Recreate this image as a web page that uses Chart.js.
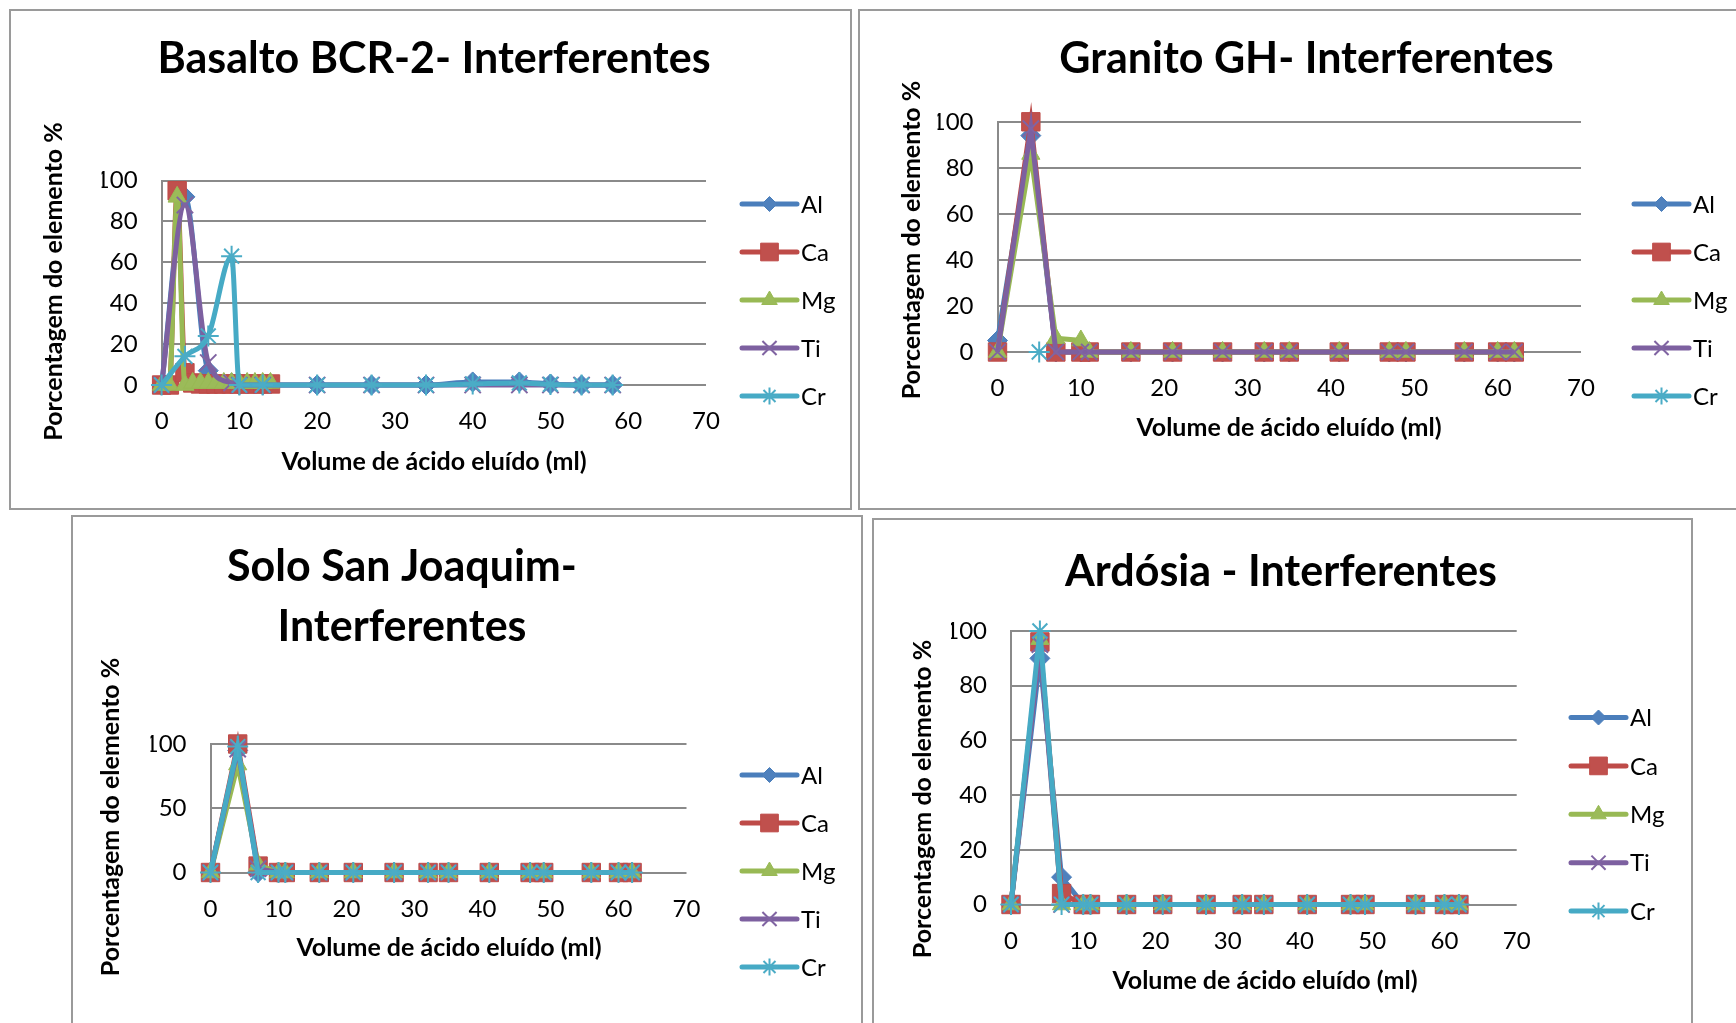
<!DOCTYPE html>
<html>
<head>
<meta charset="utf-8">
<script src="https://cdn.jsdelivr.net/npm/chart.js@4.4.1/dist/chart.umd.min.js"></script>
<style>
html, body { margin: 0; padding: 0; background: #fff; overflow: hidden; width: 1736px; height: 1023px; }
.panel { position: absolute; border: 2px solid #9a9a9a; box-sizing: border-box; background: #fff; }
canvas { position: absolute; }
</style>
</head>
<body>
<div class="panel" style="left:9px;top:9px;width:843px;height:501px"></div>
<div class="panel" style="left:858px;top:9px;width:900px;height:501px"></div>
<div class="panel" style="left:71px;top:515px;width:792px;height:530px"></div>
<div class="panel" style="left:872px;top:518px;width:821px;height:530px"></div>
<canvas id="basalto" width="842" height="500" style="left:9px;top:9px"></canvas>
<canvas id="granito" width="878" height="500" style="left:858px;top:9px"></canvas>
<canvas id="solo" width="791" height="508" style="left:71px;top:515px"></canvas>
<canvas id="ardosia" width="820" height="505" style="left:872px;top:518px"></canvas>
<script>
// element names and axis texts
const elements = ['Al', 'Ca', 'Mg', 'Ti', 'Cr'];
const xTitle = 'Volume de ácido eluído (ml)';
const yTitle = 'Porcentagem do elemento %';
const xTicks = [0, 10, 20, 30, 40, 50, 60, 70];

// Basalto BCR-2 (Al, Ti, Cr share one volume list, Ca and Mg another)
const basaltoVol = [0, 3, 6, 9, 10, 13, 20, 27, 34, 40, 46, 50, 54, 58];
const basaltoVolCaMg = [0, 1, 2, 3, 4, 5, 6, 7, 8, 9, 10, 11, 12, 13, 14];
const basaltoAl = [0, 92, 7, 1, 0, 0, 0, 0, 0, 1.5, 1.5, 0.5, 0, 0];
const basaltoCa = [0, 0, 95, 6, 1, 0.5, 0.5, 0.5, 0.5, 0.5, 0.5, 0.5, 0.5, 0.5, 0.5];
const basaltoMg = [0, 0, 92, 0, 1, 1, 1, 1, 1, 1, 1, 1, 1, 1, 1];
const basaltoTi = [0, 88, 11, 1, 0, 0, 0, 0, 0, 0, 0, 0, 0, 0];
const basaltoCr = [0, 14, 24, 63, 0, 0, 0, 0, 0, 0.5, 1, 0.3, 0, 0];

// volumes used for the other three samples
const eluteVol = [0, 4, 7, 10, 11, 16, 21, 27, 32, 35, 41, 47, 49, 56, 60, 62];

// Granito GH
const granitoAl = [5, 94, 0, 0, 0, 0, 0, 0, 0, 0, 0, 0, 0, 0, 0, 0];
const granitoCa = [0, 100, 0, 0, 0, 0, 0, 0, 0, 0, 0, 0, 0, 0, 0, 0];
const granitoMg = [0, 86, 6, 5, 0, 0, 0, 0, 0, 0, 0, 0, 0, 0, 0, 0];
const granitoTi = [0, 97, 0, 0, 0, 0, 0, 0, 0, 0, 0, 0, 0, 0, 0, 0];
const granitoCrVol = [5];
const granitoCr = [0];

// Solo San Joaquim
const soloAl = [0, 95, 0, 0, 0, 0, 0, 0, 0, 0, 0, 0, 0, 0, 0, 0];
const soloCa = [0, 100, 5, 0, 0, 0, 0, 0, 0, 0, 0, 0, 0, 0, 0, 0];
const soloMg = [0, 84, 6, 0, 0, 0, 0, 0, 0, 0, 0, 0, 0, 0, 0, 0];
const soloTi = [0, 96, 3, 0, 0, 0, 0, 0, 0, 0, 0, 0, 0, 0, 0, 0];
const soloCr = [0, 98, 0, 0, 0, 0, 0, 0, 0, 0, 0, 0, 0, 0, 0, 0];

// Ardósia
const ardosiaAl = [0, 90, 10, 0, 0, 0, 0, 0, 0, 0, 0, 0, 0, 0, 0, 0];
const ardosiaCa = [0, 96, 4, 0, 0, 0, 0, 0, 0, 0, 0, 0, 0, 0, 0, 0];
const ardosiaMg = [0, 97, 0, 0, 0, 0, 0, 0, 0, 0, 0, 0, 0, 0, 0, 0];
const ardosiaTi = [0, 95, 0, 0, 0, 0, 0, 0, 0, 0, 0, 0, 0, 0, 0, 0];
const ardosiaCr = [0, 100, 0, 0, 0, 0, 0, 0, 0, 0, 0, 0, 0, 0, 0, 0];

// series styles (Excel 2007 palette)
const lineColors = ['#4a7ebb', '#be4b48', '#98b954', '#7d60a0', '#46aac5'];
const fillColors = ['#4f81bd', '#c0504d', '#9bbb59', '#8064a2', '#4bacc6'];
const markers = ['rectRot', 'rect', 'triangle', 'crossRot', 'star'];
const markerSize = { rectRot: 10, rect: 13, triangle: 10.5, crossRot: 11.5, star: 10.5 };
const legendSize = { rectRot: 7.5, rect: 12.5, triangle: 9, crossRot: 10, star: 8.5 };
const FONT = 'Lato';

function pairs(xs, ys) {
    return xs.map((x, i) => ({ x: x, y: ys[i] }));
}

function makeDatasets(series, smooth) {
    return series.map((s, i) => {
        const thin = markers[i] === 'crossRot' || markers[i] === 'star';
        return {
            label: elements[i],
            data: pairs(s[0], s[1]),
            borderColor: lineColors[i],
            backgroundColor: fillColors[i],
            pointBackgroundColor: fillColors[i],
            pointBorderColor: thin ? fillColors[i] : lineColors[i],
            pointStyle: markers[i],
            pointRadius: markerSize[markers[i]],
            pointBorderWidth: thin ? 2 : 1,
            borderWidth: 5,
            tension: 0,
            cubicInterpolationMode: smooth ? 'monotone' : 'default',
            order: 4 - i,
            clip: false
        };
    });
}

// titles, axis titles and legend drawn at the reference positions
function panelText(cfg) {
    return {
        id: 'panelText',
        afterDraw(chart) {
            const ctx = chart.ctx;
            ctx.save();
            ctx.fillStyle = '#000';
            ctx.textAlign = 'center';
            ctx.textBaseline = 'alphabetic';
            ctx.font = 'bold 43px ' + FONT;
            cfg.title.forEach((t, i) => ctx.fillText(t, cfg.titleX, cfg.titleY + i * 60));

            ctx.font = 'bold 25px ' + FONT;
            ctx.textBaseline = 'middle';
            ctx.fillText(xTitle, cfg.xTitle[0], cfg.xTitle[1]);
            ctx.save();
            ctx.translate(cfg.yTitle[0], cfg.yTitle[1]);
            ctx.rotate(-Math.PI / 2);
            ctx.fillText(yTitle, 0, 0);
            ctx.restore();

            ctx.font = '24px ' + FONT;
            ctx.textAlign = 'left';
            chart.data.datasets.forEach((ds, i) => {
                const y = cfg.legendY + i * cfg.legendGap;
                const x = cfg.legendX;
                ctx.strokeStyle = ds.borderColor;
                ctx.lineWidth = 5;
                ctx.lineCap = 'round';
                ctx.beginPath();
                ctx.moveTo(x, y);
                ctx.lineTo(x + 55, y);
                ctx.stroke();
                ctx.fillStyle = ds.pointBackgroundColor;
                ctx.strokeStyle = ds.pointBorderColor;
                ctx.lineWidth = ds.pointBorderWidth;
                ctx.lineCap = 'butt';
                Chart.helpers.drawPoint(ctx, {
                    pointStyle: ds.pointStyle,
                    radius: legendSize[ds.pointStyle],
                    borderWidth: ds.pointBorderWidth,
                    rotation: 0
                }, x + 27.5, y);
                ctx.fillStyle = '#000';
                ctx.fillText(ds.label, x + 59, y + 1);
            });
            ctx.restore();
        }
    };
}

function makeChart(id, series, smooth, yStep, pad, cfg) {
    return new Chart(document.getElementById(id), {
        type: 'line',
        data: { datasets: makeDatasets(series, smooth) },
        options: {
            responsive: false,
            animation: false,
            events: [],
            layout: { padding: pad },
            plugins: { legend: { display: false }, title: { display: false }, tooltip: { enabled: false } },
            scales: {
                x: {
                    type: 'linear',
                    min: xTicks[0],
                    max: xTicks[xTicks.length - 1],
                    afterBuildTicks: (scale) => { scale.ticks = xTicks.map(v => ({ value: v })); },
                    afterFit: (scale) => { scale.height = 50; },
                    grid: { display: false, drawTicks: false },
                    border: { display: false },
                    ticks: { color: '#000', font: { family: FONT, size: 24 }, padding: 22, maxRotation: 0, autoSkip: false }
                },
                y: {
                    min: 0,
                    max: 100,
                    afterFit: (scale) => { scale.width = 60; },
                    grid: { color: '#8a8a8a', lineWidth: 2, drawTicks: false },
                    border: { display: true, color: '#8a8a8a', width: 2 },
                    ticks: { stepSize: yStep, color: '#000', font: { family: FONT, size: 24 }, padding: 24 }
                }
            }
        },
        plugins: [panelText(cfg)]
    });
}

makeChart('basalto', [
    [basaltoVol, basaltoAl],
    [basaltoVolCaMg, basaltoCa],
    [basaltoVolCaMg, basaltoMg],
    [basaltoVol, basaltoTi],
    [basaltoVol, basaltoCr]
], true, 20,
    { left: 92.6, right: 145, top: 171.5, bottom: 74 },
    { title: ['Basalto BCR-2- Interferentes'], titleX: 425, titleY: 64,
      xTitle: [425, 453], yTitle: [45, 272.5], legendX: 733, legendY: 195, legendGap: 48 });

makeChart('granito', [
    [eluteVol, granitoAl],
    [eluteVol, granitoCa],
    [eluteVol, granitoMg],
    [eluteVol, granitoTi],
    [granitoCrVol, granitoCr]
], false, 20,
    { left: 79.5, right: 155, top: 112.8, bottom: 107 },
    { title: ['Granito GH- Interferentes'], titleX: 448.5, titleY: 64,
      xTitle: [431, 419], yTitle: [54, 231], legendX: 776, legendY: 195, legendGap: 48 });

makeChart('solo', [
    [eluteVol, soloAl],
    [eluteVol, soloCa],
    [eluteVol, soloMg],
    [eluteVol, soloTi],
    [eluteVol, soloCr]
], false, 50,
    { left: 79.5, right: 175.5, top: 229, bottom: 100.5 },
    { title: ['Solo San Joaquim-', 'Interferentes'], titleX: 331, titleY: 66,
      xTitle: [378, 433], yTitle: [40, 302], legendX: 671, legendY: 260, legendGap: 48 });

makeChart('ardosia', [
    [eluteVol, ardosiaAl],
    [eluteVol, ardosiaCa],
    [eluteVol, ardosiaMg],
    [eluteVol, ardosiaTi],
    [eluteVol, ardosiaCr]
], false, 20,
    { left: 79, right: 175.3, top: 113, bottom: 68.5 },
    { title: ['Ardósia - Interferentes'], titleX: 409, titleY: 68,
      xTitle: [393, 462.5], yTitle: [51, 281], legendX: 699, legendY: 199.5, legendGap: 48.4 });
</script>
</body>
</html>
